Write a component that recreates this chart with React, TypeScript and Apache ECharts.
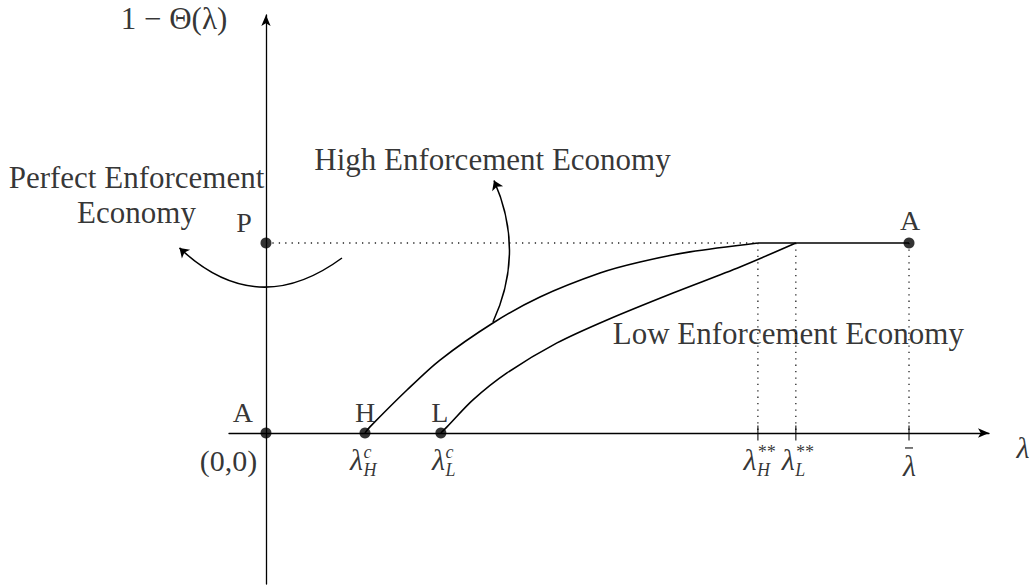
import React, { useEffect, useRef } from 'react';
import * as echarts from 'echarts';

// ---- data ----
const lambdaHc = 1.54;   // λ_H^c
const lambdaLc = 2.72;   // λ_L^c
const lambdaHss = 7.65;  // λ_H^**
const lambdaLss = 8.24;  // λ_L^**
const lambdaBar = 10;    // λ̄
const fullLevel = 1;     // level of P / A

const xMin = -0.575;
const xMax = 11.244;
const yMin = -0.795;
const yMax = 2.2;

const highCurveX = [1.54, 1.617, 2.193, 2.706, 3.53, 4.261, 5.194, 5.817, 6.594, 7.65];
const highCurveY = [0, 0.032, 0.226, 0.384, 0.579, 0.716, 0.842, 0.9, 0.953, 1];
const lowCurveX = [2.72, 2.815, 3.219, 3.748, 4.526, 5.303, 6.33, 7.372, 8.24];
const lowCurveY = [0, 0.032, 0.174, 0.316, 0.474, 0.595, 0.737, 0.874, 1];

const pointNames = ['A', 'H', 'L', 'P', 'A'];
const pointX = [0, lambdaHc, lambdaLc, 0, lambdaBar];
const pointY = [0, 0, 0, fullLevel, fullLevel];

const tickValues = [lambdaHss, lambdaLss, lambdaBar];

// tick-label pieces: base, superscript, subscript
const lambdaLabelX = [lambdaHc, lambdaLc, lambdaHss, lambdaLss];
const lambdaSup = ['c', 'c', '**', '**'];
const lambdaSub = ['H', 'L', 'H', 'L'];

const perfectArrowFrom = [1.182, 0.921];
const perfectArrowTo = [-1.345, 0.974];
const highArrowFrom = [3.53, 0.584];
const highArrowTo = [3.546, 1.329];

const yAxisName = '1 − Θ(λ)';
const xAxisName = 'λ';
const originLabel = '(0,0)';
const highLabel = 'High Enforcement Economy';
const lowLabel = 'Low Enforcement Economy';
const perfectLabel = 'Perfect Enforcement\nEconomy';

// ---- styles ----
const SERIF = '"Liberation Serif", "Times New Roman", serif';
const INK = '#000';
const MAIN = 30;
const SMALL = 18;

const pointLabelOffsets = [[-23, -20], [0, -20], [-1, -20], [-22, -20], [1, -22]];
const lambdaSplit = [-2, 4, -1.5, -1];

function txt(text: string, offset: number[], extra: any = {}) {
  return {
    formatter: text,
    offset,
    fontFamily: SERIF,
    fontSize: MAIN,
    color: INK,
    ...extra,
  };
}

export default function App() {
  const ref = useRef<HTMLDivElement>(null);

  useEffect(() => {
    if (!ref.current) return;
    const chart = echarts.init(ref.current, null, { renderer: 'svg' });

    const dotted = { color: '#222', width: 1.3, type: [1.3, 5.1] as any };
    const solid = { color: INK, width: 1.6 };
    const italic = { fontStyle: 'italic' };

    const lambdaPieces: any[] = [];
    lambdaLabelX.forEach((x, i) => {
      const s = lambdaSplit[i];
      lambdaPieces.push({
        value: [x, 0],
        label: txt('λ', [s, 27], { ...italic, align: 'right' }),
      });
      lambdaPieces.push({
        value: [x, 0],
        label: txt(lambdaSup[i] + '\n' + lambdaSub[i], [s + 0.5, 28.5], {
          fontSize: SMALL,
          lineHeight: 18,
          align: 'left',
          fontStyle: 'italic',
        }),
      });
    });
    lambdaPieces.push({ value: [lambdaBar, 0], label: txt('λ', [0.5, 33], italic) });

    const annotations: any[] = [
      { value: [0, 0], label: txt(originLabel, [-37.5, 28]) },
      { value: [0, yMax], label: txt(yAxisName, [-92, 3], { fontSize: 31 }) },
      { value: [xMax, 0], label: txt(xAxisName, [34, 15], italic) },
      { value: highArrowTo, label: txt(highLabel, [-1.5, -21], { fontSize: 31 }) },
      {
        value: perfectArrowTo,
        label: txt(perfectLabel, [-43, -53], { lineHeight: 35.5, align: 'center', fontSize: 31 }),
      },
      { value: [lambdaLss, fullLevel], label: txt(lowLabel, [-7.5, 91], { fontSize: 31 }) },
    ];

    const axisBase = {
      axisLine: {
        show: true,
        onZero: true,
        symbol: ['none', 'arrow'],
        symbolSize: [7, 11],
        lineStyle: { color: INK, width: 1.3 },
      },
      axisTick: { show: false },
      axisLabel: { show: false },
      splitLine: { show: false },
    };

    const option: any = {
      animation: false,
      backgroundColor: '#fff',
      grid: { left: 229, right: 42, top: 15, bottom: 3, containLabel: false },
      xAxis: { type: 'value', min: xMin, max: xMax, ...axisBase },
      yAxis: { type: 'value', min: yMin, max: yMax, ...axisBase },
      series: [
        {
          type: 'line',
          name: 'level',
          data: [[0, fullLevel], [lambdaHss, fullLevel]],
          symbol: 'none',
          lineStyle: dotted,
          z: 2,
        },
        ...tickValues.map((v) => ({
          type: 'line',
          data: [[v, fullLevel], [v, 0]],
          symbol: 'none',
          lineStyle: dotted,
          z: 2,
        })),
        {
          type: 'line',
          name: 'flat',
          data: [[lambdaHss, fullLevel], [lambdaBar, fullLevel]],
          symbol: 'none',
          lineStyle: solid,
          z: 3,
        },
        {
          type: 'line',
          name: 'High Enforcement Economy',
          data: highCurveX.map((x, i) => [x, highCurveY[i]]),
          smooth: 0.3,
          symbol: 'none',
          lineStyle: solid,
          z: 3,
        },
        {
          type: 'line',
          name: 'Low Enforcement Economy',
          data: lowCurveX.map((x, i) => [x, lowCurveY[i]]),
          smooth: 0.3,
          symbol: 'none',
          lineStyle: solid,
          z: 3,
        },
        {
          type: 'lines',
          coordinateSystem: 'cartesian2d',
          clip: false,
          symbol: ['none', 'arrow'],
          symbolSize: 9,
          lineStyle: { color: INK, width: 1.5, opacity: 1 },
          data: [
            { coords: [perfectArrowFrom, perfectArrowTo], lineStyle: { curveness: 0.418 } },
            { coords: [highArrowFrom, highArrowTo], lineStyle: { curveness: -0.226 } },
          ],
          z: 3,
        },
        {
          type: 'scatter',
          name: 'ticks',
          data: tickValues.map((v) => [v, 0]),
          symbol: 'rect',
          symbolSize: [1.3, 15],
          itemStyle: { color: INK },
          z: 4,
        },
        {
          type: 'scatter',
          name: 'bar',
          data: [[lambdaBar, 0]],
          symbol: 'rect',
          symbolSize: [8, 1.3],
          symbolOffset: [0, 15],
          itemStyle: { color: INK },
          z: 4,
        },
        {
          type: 'scatter',
          name: 'points',
          data: pointX.map((x, i) => ({
            value: [x, pointY[i]],
            label: txt(pointNames[i], pointLabelOffsets[i], { fontSize: 28 }),
          })),
          symbol: 'circle',
          symbolSize: 11,
          itemStyle: { color: INK },
          label: { show: true, position: 'inside' },
          z: 5,
        },
        {
          type: 'scatter',
          name: 'tickLabels',
          clip: false,
          data: lambdaPieces,
          symbolSize: 1,
          itemStyle: { color: 'rgba(0,0,0,0)' },
          label: { show: true, position: 'inside' },
          z: 6,
        },
        {
          type: 'scatter',
          name: 'annotations',
          clip: false,
          data: annotations,
          symbolSize: 1,
          itemStyle: { color: 'rgba(0,0,0,0)' },
          label: { show: true, position: 'inside' },
          z: 6,
        },
      ],
    };

    chart.setOption(option);
    return () => chart.dispose();
  }, []);

  return (
    <div
      ref={ref}
      style={{ position: 'absolute', left: 0, top: 0, width: 1031, height: 587, background: '#fff' }}
    />
  );
}
